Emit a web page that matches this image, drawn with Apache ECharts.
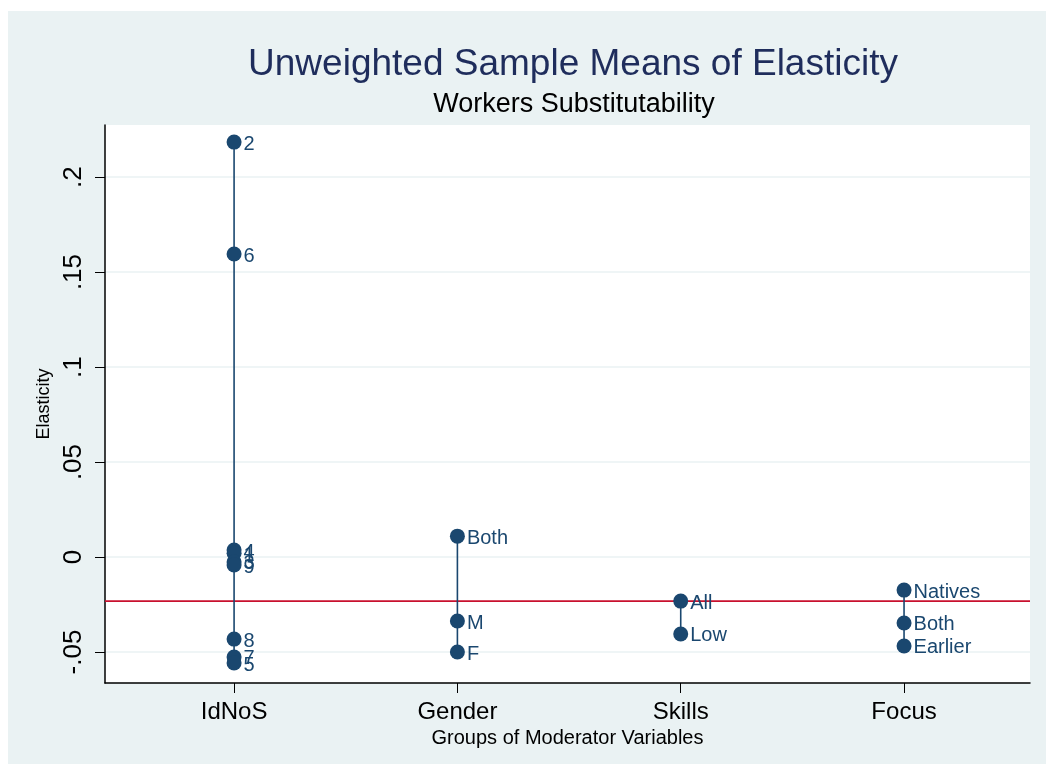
<!DOCTYPE html>
<html><head><meta charset="utf-8">
<script src="https://cdn.jsdelivr.net/npm/echarts@6/dist/echarts.min.js"></script>
<style>html,body{margin:0;padding:0;background:#fff}#c{width:1053px;height:774px}</style>
</head><body><div id="c"></div>
<script>
const groups = ['IdNoS', 'Gender', 'Skills', 'Focus'];
const idnosLabels = ['2', '6', '4', '1', '3', '9', '8', '7', '5'];
const idnosValues = [0.2184, 0.1595, 0.0037, 0.0020, -0.0026, -0.0042, -0.0432, -0.0526, -0.0558];
const genderLabels = ['Both', 'M', 'F'];
const genderValues = [0.0110, -0.0337, -0.0500];
const skillsLabels = ['All', 'Low'];
const skillsValues = [-0.0232, -0.0405];
const focusLabels = ['Natives', 'Both', 'Earlier'];
const focusValues = [-0.0174, -0.0347, -0.0468];
const overallMean = -0.0232;
const yTicks = [-0.05, 0, 0.05, 0.1, 0.15, 0.2];
const yTickLabels = ['-.05', '0', '.05', '.1', '.15', '.2'];

const groupData = [
  [idnosLabels, idnosValues],
  [genderLabels, genderValues],
  [skillsLabels, skillsValues],
  [focusLabels, focusValues]
];
const navy = '#1a476f';
const font = '"Liberation Sans", Arial, sans-serif';
const X_MIN = 0.422, X_MAX = 4.564;

const series = [];
series.push({
  type: 'line', silent: true, symbol: 'none',
  lineStyle: {color: '#c8102e', width: 1.6},
  data: [[X_MIN, overallMean], [X_MAX, overallMean]],
  z: 1
});
groupData.forEach(([labs, vals], gi) => {
  const x = gi + 1;
  series.push({
    type: 'line', silent: true, symbol: 'none',
    lineStyle: {color: navy, width: 1.6},
    data: [[x, Math.min(...vals)], [x, Math.max(...vals)]],
    z: 2
  });
  series.push({
    type: 'scatter', symbolSize: 15,
    itemStyle: {color: navy, opacity: 1},
    label: {show: true, position: 'right', distance: 2, offset: [0, 2], color: navy, fontSize: 20, fontFamily: font,
      formatter: p => p.data.name},
    data: vals.map((v, i) => ({value: [x, v], name: labs[i]})),
    z: 3
  });
});

const chart = echarts.init(document.getElementById('c'));
chart.setOption({
  animation: false,
  backgroundColor: '#ffffff',
  graphic: [{type: 'rect', shape: {x: 8, y: 11, width: 1038, height: 753}, style: {fill: '#eaf2f3'}, z: -10}],
  title: [
    {text: 'Unweighted Sample Means of Elasticity', left: 568, top: 41, textAlign: 'center',
     textStyle: {color: '#1f2d5c', fontSize: 37, fontWeight: 'normal', fontFamily: font}},
    {text: 'Workers Substitutability', left: 569, top: 86, textAlign: 'center',
     textStyle: {color: '#000', fontSize: 27, fontWeight: 'normal', fontFamily: font}}
  ],
  grid: {left: 105, right: 23, top: 125, bottom: 91, show: true, backgroundColor: '#fff', borderWidth: 0},
  xAxis: {
    type: 'value', min: X_MIN, max: X_MAX,
    name: 'Groups of Moderator Variables', nameLocation: 'middle', nameGap: 41,
    nameTextStyle: {color: '#000', fontSize: 20, fontFamily: font},
    axisLine: {show: true, onZero: false, lineStyle: {color: '#000', width: 1.5}},
    axisTick: {show: true, length: 10, customValues: [1, 2, 3, 4], lineStyle: {color: '#000'}},
    axisLabel: {customValues: [1, 2, 3, 4], formatter: v => groups[Math.round(v) - 1], color: '#000',
      fontSize: 24, fontFamily: font, margin: 17},
    splitLine: {show: false}
  },
  yAxis: {
    type: 'value', min: -0.0663, max: 0.2274,
    name: 'Elasticity', nameLocation: 'middle', nameGap: 52, nameRotate: 90,
    nameTextStyle: {color: '#000', fontSize: 18, fontFamily: font},
    axisLine: {show: true, onZero: false, lineStyle: {color: '#000', width: 1.5}},
    axisTick: {show: true, length: 10, customValues: yTicks, lineStyle: {color: '#000'}},
    axisLabel: {customValues: yTicks, rotate: 90, color: '#000', fontSize: 26, fontFamily: font, margin: 18,
      formatter: v => { const i = yTicks.findIndex(t => Math.abs(t - v) < 1e-9); return i >= 0 ? yTickLabels[i] : ''; }},
    splitLine: {show: true, lineStyle: {color: '#eaf2f3', width: 1.5}}
  },
  series: series
});
</script></body></html>
